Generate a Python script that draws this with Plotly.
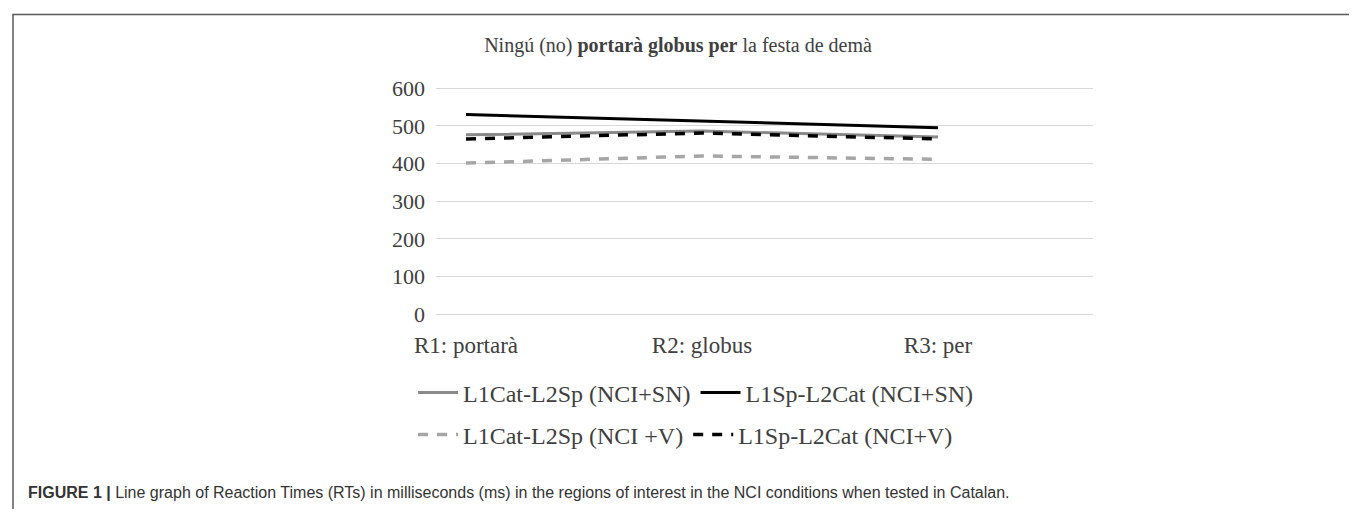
import plotly.graph_objects as go

W, H = 1357, 509

categories = ["R1: portarà", "R2: globus", "R3: per"]
cat_sn = [476, 486, 470]      # L1Cat-L2Sp (NCI+SN)
sp_sn = [530, 512, 495]       # L1Sp-L2Cat (NCI+SN)
cat_v = [401, 420, 411]       # L1Cat-L2Sp (NCI +V)
sp_v = [465, 481, 465]        # L1Sp-L2Cat (NCI+V)
y_ticks = [0, 100, 200, 300, 400, 500, 600]

names = ["L1Cat-L2Sp (NCI+SN)", "L1Sp-L2Cat (NCI+SN)", "L1Cat-L2Sp (NCI +V)", "L1Sp-L2Cat (NCI+V)"]

SERIF = "Liberation Serif, Times New Roman, serif"
TXT = "#404040"

# plot area in pixels (600 gridline at 80, 0 gridline at 310)
L, R = 428, 1085
PAD = 3  # value padding so that edge gridlines are drawn
ppv = 230 / 600.0
T = 80 - PAD * ppv
B = 310 + PAD * ppv

fig = go.Figure()
fig.add_trace(go.Scatter(x=categories, y=cat_sn, mode="lines", name=names[0],
                         line=dict(color="#8a8a8a", width=3), legend="legend"))
fig.add_trace(go.Scatter(x=categories, y=sp_sn, mode="lines", name=names[1],
                         line=dict(color="#000000", width=3), legend="legend"))
fig.add_trace(go.Scatter(x=categories, y=cat_v, mode="lines", name=names[2],
                         line=dict(color="#a6a6a6", width=3.5, dash="10px,9px"), legend="legend2"))
fig.add_trace(go.Scatter(x=categories, y=sp_v, mode="lines", name=names[3],
                         line=dict(color="#000000", width=3.5, dash="10px,9px"), legend="legend2"))

first_px, last_px = 458, 930
px_per_cat = (last_px - first_px) / 2.0
x0 = -(first_px - L) / px_per_cat
x1 = 2 + (R - last_px) / px_per_cat

def px_x(p):
    return (p - L) / (R - L)

def px_y(p):
    return (B - p) / (B - T)

fig.update_layout(
    width=W, height=H,
    paper_bgcolor="white", plot_bgcolor="white",
    margin=dict(l=L, r=W - R, t=T, b=H - B, pad=0),
    title=dict(text="Ningú (no) <b>portarà globus per</b> la festa de demà",
               x=670 / W, xref="container", xanchor="center",
               y=1 - 37 / H, yref="container", yanchor="middle",
               font=dict(family=SERIF, size=20, color=TXT)),
    xaxis=dict(type="category", range=[x0, x1], showgrid=False, zeroline=False,
               showline=False, ticks="", ticklabelstandoff=14,
               tickfont=dict(family=SERIF, size=23, color=TXT)),
    yaxis=dict(range=[-PAD, 600 + PAD], tickvals=y_ticks, showgrid=True, gridcolor="#d9d9d9",
               gridwidth=1, zeroline=False, showline=False, ticks="",
               ticklabelstandoff=10,
               tickfont=dict(family=SERIF, size=22, color=TXT)),
    legend=dict(orientation="h", xref="container", yref="container",
                x=405 / W, xanchor="left", y=1 - 385 / H, yanchor="middle",
                font=dict(family=SERIF, size=24, color=TXT), itemwidth=40,
                bgcolor="rgba(0,0,0,0)", tracegroupgap=0),
    legend2=dict(orientation="h", xref="container", yref="container",
                 x=405 / W, xanchor="left", y=1 - 427 / H, yanchor="middle",
                 font=dict(family=SERIF, size=24, color=TXT), itemwidth=40,
                 bgcolor="rgba(0,0,0,0)", tracegroupgap=0),
    showlegend=True,
)

# Figure frame (open at bottom)
fig.add_shape(type="path", xref="paper", yref="paper",
              path=f"M {px_x(5)},{px_y(509)} L {px_x(5)},{px_y(5)} L {px_x(1352)},{px_y(5)} L {px_x(1352)},{px_y(509)}",
              line=dict(color="#5a5a5a", width=1.5), layer="above")

fig.add_annotation(text="<b>FIGURE 1 |</b> Line graph of Reaction Times (RTs) in milliseconds (ms) in the regions of interest in the NCI conditions when tested in Catalan.",
                   xref="paper", yref="paper", x=px_x(18), y=px_y(491),
                   xanchor="left", yanchor="middle", showarrow=False,
                   font=dict(family="Liberation Sans, Arial, sans-serif", size=16, color="#333333"))

fig.write_html("out.html")
